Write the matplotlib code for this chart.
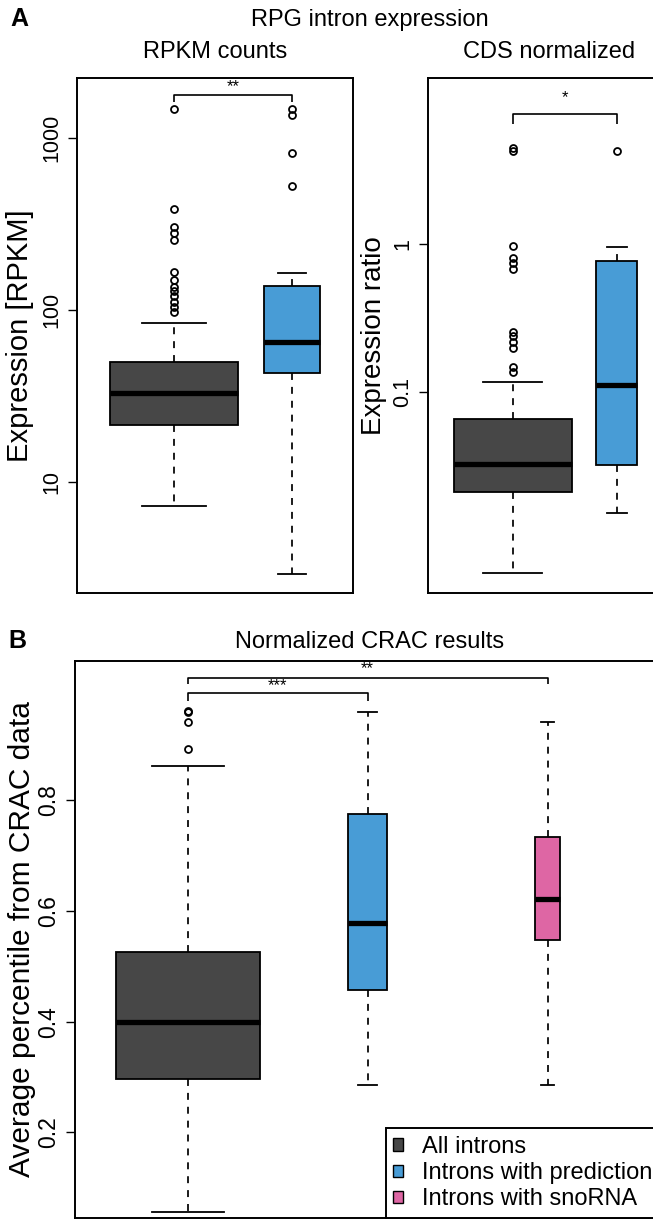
import matplotlib
matplotlib.use("Agg")
import matplotlib.pyplot as plt
from matplotlib.patches import Patch
from matplotlib.ticker import NullLocator

# ---------------- data ----------------
categories = ["All introns", "Introns with prediction", "Introns with snoRNA"]
colors = ["#474747", "#489CD6", "#DE66A4"]

# box stats order: whislo, q1, median, q3, whishi
rpkm_all_box = [7.2, 21.5, 33.0, 49.5, 84.0]
rpkm_all_out = [1462, 388, 302, 279, 256, 166, 149, 136, 128, 120, 111, 104, 97]
rpkm_pred_box = [2.9, 43.0, 65.0, 138.0, 164.0]
rpkm_pred_out = [1462, 1360, 815, 524]

ratio_all_box = [0.006, 0.0211, 0.0325, 0.0658, 0.1175]
ratio_all_out = [4.49, 4.28, 0.97, 0.81, 0.74, 0.68, 0.253, 0.238, 0.218,
                 0.199, 0.148, 0.136]
ratio_pred_box = [0.0152, 0.0321, 0.1107, 0.764, 0.953]
ratio_pred_out = [4.25]

crac_all_box = [0.055, 0.2966, 0.400, 0.5255, 0.862]
crac_all_out = [0.962, 0.959, 0.941, 0.893]
crac_pred_box = [0.285, 0.4566, 0.579, 0.7745, 0.960]
crac_pred_out = []
crac_sno_box = [0.286, 0.548, 0.621, 0.734, 0.941]
crac_sno_out = []

rpkm_ticks = [10, 100, 1000]
rpkm_ticklabels = ["10", "100", "1000"]
ratio_ticks = [0.1, 1]
ratio_ticklabels = ["0.1", "1"]
crac_ticks = [0.2, 0.4, 0.6, 0.8]
crac_ticklabels = ["0.2", "0.4", "0.6", "0.8"]

sig_rpkm = "**"
sig_ratio = "*"
sig_crac = ["***", "**"]

# ---------------- figure ----------------
W, H = 653, 1219
plt.rcParams['font.family'] = ['Liberation Sans', 'DejaVu Sans']
fig = plt.figure(figsize=(W / 100, H / 100), dpi=100)


def rect(x0, y0, x1, y1):
    return [x0 / W, 1 - y1 / H, (x1 - x0) / W, (y1 - y0) / H]


def stats(box, out):
    return dict(whislo=box[0], q1=box[1], med=box[2], q3=box[3],
                whishi=box[4], fliers=out)


def draw_boxes(ax, boxes, outs, cols, positions, widths):
    st = [stats(b, o) for b, o in zip(boxes, outs)]
    res = ax.bxp(st, positions=positions, widths=widths,
                 capwidths=[w * 0.5 for w in widths],
                 patch_artist=True, showfliers=True,
                 boxprops=dict(edgecolor='black', linewidth=1.3),
                 medianprops=dict(color='black', linewidth=3.8,
                                  solid_capstyle='butt'),
                 whiskerprops=dict(color='black', linewidth=1.25,
                                   linestyle=(0, (4, 4))),
                 capprops=dict(color='black', linewidth=1.3),
                 flierprops=dict(marker='o', markerfacecolor='none',
                                 markeredgecolor='black', markersize=5,
                                 markeredgewidth=1.3, linestyle='none'))
    for patch, c in zip(res['boxes'], cols):
        patch.set_facecolor(c)
    return res


def style(ax, ticks, labels, tsize):
    for s in ax.spines.values():
        s.set_linewidth(1.4)
    ax.set_xticks([])
    ax.set_yticks(ticks)
    ax.set_yticklabels(labels)
    ax.yaxis.set_minor_locator(NullLocator())
    ax.tick_params(axis='y', length=6.5, width=1.0, pad=4,
                   labelsize=tsize, direction='out')
    for lab in ax.get_yticklabels():
        lab.set_rotation(90)
        lab.set_va('center')
        lab.set_ha('right')


def bracket(ax, x1, x2, y, yend, text, ytext, fs=12):
    ax.plot([x1, x1, x2, x2], [yend, y, y, yend], color='black', lw=1.2,
            solid_capstyle='butt', clip_on=False)
    ax.text((x1 + x2) / 2, ytext, text, ha='center', va='center',
            fontsize=fs)


# ---------- Panel A left: RPKM counts ----------
ax1 = fig.add_axes(rect(77, 78, 353, 593))
ax1.set_yscale('log')
draw_boxes(ax1, [rpkm_all_box, rpkm_pred_box], [rpkm_all_out, rpkm_pred_out],
           colors[:2], [1, 2], [1.085, 0.475])
ax1.set_xlim(0.178, 2.517)
ax1.set_ylim(10 ** 0.353, 10 ** 3.348)
style(ax1, rpkm_ticks, rpkm_ticklabels, 15.5)
ax1.set_ylabel("Expression [RPKM]", fontsize=21, va='center')
ax1.yaxis.set_label_coords(-0.205, 0.5)
bracket(ax1, 1, 2, 10 ** 3.25, 10 ** 3.21, sig_rpkm, 10 ** 3.295)

# ---------- Panel A right: CDS normalized ----------
ax2 = fig.add_axes(rect(428, 78, 671, 593))
ax2.set_yscale('log')
draw_boxes(ax2, [ratio_all_box, ratio_pred_box],
           [ratio_all_out, ratio_pred_out],
           colors[:2], [1, 2], [1.135, 0.394])
ax2.set_xlim(0.183, 2.52)
ax2.set_ylim(10 ** -2.358, 10 ** 1.122)
style(ax2, ratio_ticks, ratio_ticklabels, 15.5)
ax2.set_ylabel("Expression ratio", fontsize=20, va='center')
ax2.yaxis.set_label_coords(-0.222, 0.5)
bracket(ax2, 1, 2, 10 ** 0.88, 10 ** 0.813, sig_ratio, 10 ** 0.99)

# ---------- Panel B: CRAC ----------
ax3 = fig.add_axes(rect(75, 661, 660, 1218))
draw_boxes(ax3, [crac_all_box, crac_pred_box, crac_sno_box],
           [crac_all_out, crac_pred_out, crac_sno_out],
           colors, [1, 2, 3], [0.8, 0.217, 0.139])
ax3.set_xlim(0.375, 3.625)
ax3.set_ylim(0.045, 1.052)
style(ax3, crac_ticks, crac_ticklabels, 16.5)
ax3.set_ylabel("Average percentile from CRAC data", fontsize=21.5,
               va='center')
ax3.yaxis.set_label_coords(-0.091, 0.5)
bracket(ax3, 1, 2, 0.995, 0.980, sig_crac[0], 1.007)
bracket(ax3, 1, 3, 1.022, 1.010, sig_crac[1], 1.038)

handles = [Patch(facecolor=c, edgecolor='black', linewidth=1.0)
           for c in colors]
leg = ax3.legend(handles, categories, loc='lower right',
                 bbox_to_anchor=(1.0, 0.0), borderaxespad=0.0,
                 fontsize=17, handlelength=0.42, handleheight=0.42,
                 handletextpad=0.8, labelspacing=0.18, borderpad=0.32,
                 fancybox=False, framealpha=1.0, edgecolor='black')
leg.get_frame().set_linewidth(1.4)

# ---------- titles ----------
def ftext(x, y, s, **kw):
    fig.text(x / W, 1 - y / H, s, ha='center', va='center', **kw)


ftext(19, 19, "A", fontsize=18, fontweight='bold')
ftext(370, 20, "RPG intron expression", fontsize=17)
ftext(215, 52, "RPKM counts", fontsize=17)
ftext(549, 52, "CDS normalized", fontsize=17)
ftext(17, 641, "B", fontsize=18, fontweight='bold')
ftext(370, 642, "Normalized CRAC results", fontsize=17)

fig.savefig("out.png", dpi=100)
